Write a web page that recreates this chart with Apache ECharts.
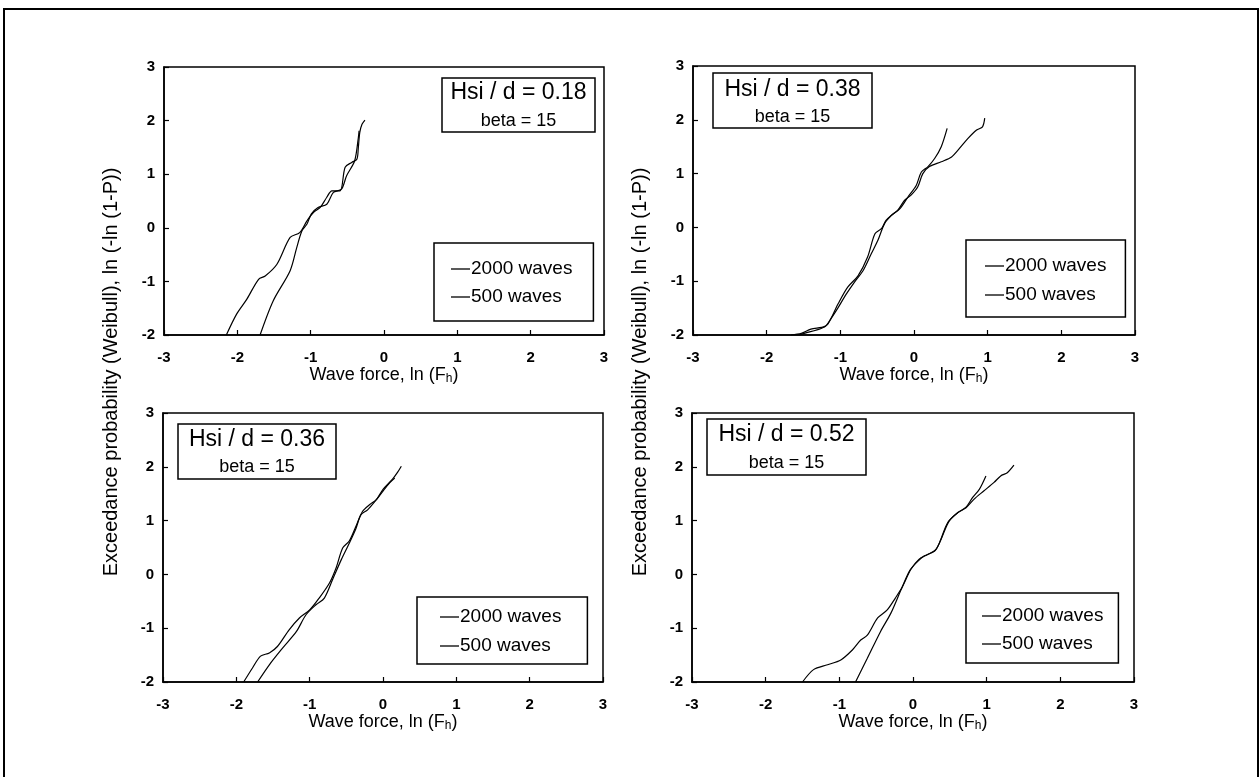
<!DOCTYPE html>
<html>
<head>
<meta charset="utf-8">
<script src="https://cdn.jsdelivr.net/npm/echarts@6/dist/echarts.min.js"></script>
<style>
  html, body { margin: 0; padding: 0; background: #fff; }
  #chart { width: 1260px; height: 777px; }
</style>
</head>
<body>
<div id="chart"></div>
<script>
// Weibull exceedance plots: ln(-ln(1-P)) against ln(Fh), four wave-height ratios
const seriesNames = ['2000 waves', '500 waves'];
const panelTitles = ['Hsi / d = 0.18', 'Hsi / d = 0.38', 'Hsi / d = 0.36', 'Hsi / d = 0.52'];
const panelSubtitle = 'beta = 15';
const xAxisTitle = 'Wave force, ln (F{sub|h})';
const yAxisTitle = 'Exceedance probability (Weibull), ln (-ln (1-P))';

// Hsi/d = 0.18
const p018_2000 = [[-2.15,-2.00],[-2.01,-1.61],[-1.87,-1.33],[-1.71,-0.96],[-1.62,-0.90],[-1.46,-0.68],
  [-1.28,-0.18],[-1.15,-0.09],[-1.05,0.13],[-0.96,0.29],[-0.87,0.38],[-0.78,0.57],[-0.71,0.69],
  [-0.60,0.69],[-0.53,1.13],[-0.44,1.22],[-0.37,1.28],[-0.35,1.50],[-0.33,1.78],[-0.30,1.93],[-0.26,2.01]];
const p018_500 = [[-1.69,-2.00],[-1.51,-1.36],[-1.28,-0.80],[-1.19,-0.37],[-1.12,-0.06],[-1.05,0.07],
  [-0.99,0.26],[-0.90,0.38],[-0.78,0.44],[-0.69,0.66],[-0.58,0.72],[-0.51,0.97],[-0.40,1.25],
  [-0.35,1.68],[-0.34,1.81]];

// Hsi/d = 0.38
const p038_2000 = [[-1.67,-2.00],[-1.53,-1.97],[-1.40,-1.89],[-1.21,-1.84],[-1.12,-1.68],[-1.03,-1.49],
  [-0.92,-1.24],[-0.81,-1.02],[-0.69,-0.80],[-0.58,-0.49],[-0.49,-0.24],[-0.40,0.07],[-0.31,0.22],
  [-0.22,0.32],[-0.13,0.50],[-0.04,0.60],[0.05,0.75],[0.12,1.00],[0.21,1.13],[0.37,1.22],
  [0.51,1.31],[0.60,1.44],[0.73,1.65],[0.85,1.81],[0.93,1.87],[0.96,2.03]];
const p038_500 = [[-1.55,-2.00],[-1.49,-1.97],[-1.26,-1.88],[-1.17,-1.80],[-1.03,-1.42],[-0.90,-1.11],
  [-0.76,-0.90],[-0.63,-0.55],[-0.53,-0.12],[-0.44,-0.02],[-0.38,0.13],[-0.31,0.22],[-0.19,0.35],
  [-0.08,0.57],[0.03,0.78],[0.10,1.03],[0.19,1.13],[0.28,1.28],[0.37,1.50],[0.45,1.84]];

// Hsi/d = 0.36
const p036_2000 = [[-1.90,-2.00],[-1.78,-1.74],[-1.67,-1.52],[-1.55,-1.46],[-1.44,-1.34],[-1.28,-1.03],
  [-1.14,-0.81],[-1.00,-0.66],[-0.87,-0.44],[-0.73,-0.16],[-0.64,0.12],[-0.55,0.49],[-0.46,0.62],
  [-0.37,0.89],[-0.28,1.17],[-0.18,1.30],[-0.09,1.39],[0.00,1.58],[0.13,1.77],[0.20,1.90],[0.25,2.01]];
const p036_500 = [[-1.71,-2.00],[-1.55,-1.68],[-1.37,-1.37],[-1.18,-1.06],[-1.05,-0.75],[-0.91,-0.56],
  [-0.80,-0.44],[-0.68,-0.07],[-0.57,0.27],[-0.46,0.58],[-0.37,0.85],[-0.30,1.11],[-0.21,1.20],
  [-0.09,1.39],[0.00,1.55],[0.09,1.70],[0.16,1.79]];

// Hsi/d = 0.52
const p052_2000 = [[-1.50,-2.00],[-1.35,-1.77],[-1.16,-1.68],[-0.98,-1.59],[-0.82,-1.40],[-0.71,-1.22],
  [-0.62,-1.13],[-0.48,-0.81],[-0.35,-0.66],[-0.24,-0.44],[-0.14,-0.22],[-0.03,0.09],[0.08,0.28],
  [0.20,0.37],[0.31,0.46],[0.38,0.65],[0.49,0.99],[0.61,1.15],[0.72,1.24],[0.83,1.40],[0.96,1.55],
  [1.10,1.71],[1.19,1.83],[1.28,1.89],[1.37,2.03]];
const p052_500 = [[-0.78,-2.00],[-0.62,-1.56],[-0.44,-1.06],[-0.30,-0.72],[-0.17,-0.31],[-0.05,0.06],
  [0.04,0.21],[0.15,0.34],[0.29,0.43],[0.36,0.59],[0.47,0.96],[0.61,1.15],[0.72,1.25],[0.81,1.43],
  [0.90,1.58],[0.99,1.83]];

const panelData = [[p018_2000, p018_500], [p038_2000, p038_500], [p036_2000, p036_500], [p052_2000, p052_500]];

// layout of the four plot areas
const grids = [
  { left: 164, top: 67, width: 440, height: 268 },
  { left: 693, top: 66, width: 442, height: 269 },
  { left: 163, top: 413, width: 440, height: 269 },
  { left: 692, top: 413, width: 442, height: 269 }
];
// title boxes: [x, y, w, h, line1 centre y, line2 centre y]
const titleBoxes = [
  [442, 78, 153, 54, 93, 121],
  [713, 73, 159, 55, 90, 117],
  [178, 424, 158, 55, 440, 467],
  [707, 419, 159, 56, 435, 463]
];
// legend boxes: left, top, padding [t, r, b, l], row gap
const legendBoxes = [
  { left: 434, top: 243, padding: [16, 21, 14, 17], gap: 8 },
  { left: 966, top: 240, padding: [16, 19, 12, 19], gap: 9 },
  { left: 417, top: 597, padding: [10, 26, 8, 23], gap: 9 },
  { left: 966, top: 593, padding: [13, 15, 9, 16], gap: 8 }
];

const FONT = '"Liberation Sans", Arial, Helvetica, sans-serif';

const option = {
  animation: false,
  backgroundColor: '#fff',
  grid: grids.map(g => Object.assign({ show: true, borderColor: '#000', borderWidth: 1.5, backgroundColor: 'transparent' }, g)),
  xAxis: grids.map((g, i) => ({
    type: 'value', gridIndex: i, min: -3, max: 3, interval: 1,
    name: xAxisTitle, nameLocation: 'middle', nameGap: i < 2 ? 29 : 28,
    nameTextStyle: {
      color: '#000', fontFamily: FONT, fontSize: 18,
      rich: { sub: { fontSize: 12, verticalAlign: 'bottom', padding: [8, 0, 0, 0], fontFamily: FONT, color: '#000' } }
    },
    axisLine: { show: true, onZero: false, lineStyle: { color: '#000', width: 1.5 } },
    axisTick: { show: true, inside: true, length: 5, lineStyle: { color: '#000', width: 1.2 } },
    axisLabel: { color: '#000', fontFamily: FONT, fontSize: 15, fontWeight: 'bold', margin: 15, showMinLabel: true, showMaxLabel: true },
    splitLine: { show: false }
  })),
  yAxis: grids.map((g, i) => ({
    type: 'value', gridIndex: i, min: -2, max: 3, interval: 1,
    axisLine: { show: true, onZero: false, lineStyle: { color: '#000', width: 1.5 } },
    axisTick: { show: true, inside: true, length: 5, lineStyle: { color: '#000', width: 1.2 } },
    axisLabel: { color: '#000', fontFamily: FONT, fontSize: 15, fontWeight: 'bold', margin: 9, showMinLabel: true, showMaxLabel: true },
    splitLine: { show: false }
  })),
  legend: legendBoxes.map(l => ({
    data: seriesNames.map(n => ({ name: n, icon: 'rect' })),
    orient: 'vertical',
    left: l.left, top: l.top,
    padding: l.padding,
    itemGap: l.gap,
    itemWidth: 19, itemHeight: 1.3,
    itemStyle: { color: '#000', borderWidth: 0 },
    lineStyle: { width: 0 },
    borderColor: '#000', borderWidth: 1.5, borderRadius: 0,
    backgroundColor: '#fff',
    selectedMode: false,
    textStyle: { color: '#000', fontFamily: FONT, fontSize: 19, lineHeight: 20, padding: [0, 0, 0, -4] }
  })),
  series: [],
  graphic: []
};

panelData.forEach((pair, i) => {
  pair.forEach((pts, k) => {
    option.series.push({
      type: 'line', name: seriesNames[k], xAxisIndex: i, yAxisIndex: i,
      data: pts, symbol: 'none', smooth: 0.3, clip: true,
      lineStyle: { color: '#000', width: 1.2 }, itemStyle: { color: '#000' }
    });
  });
});

// outer frame
option.graphic.push({
  type: 'rect', silent: true, z: 0,
  shape: { x: 4, y: 9, width: 1254, height: 800 },
  style: { fill: 'none', stroke: '#000', lineWidth: 2 }
});

// shared y-axis titles on each column
[111, 640].forEach(cx => {
  option.graphic.push({
    type: 'text', x: cx, y: 372, rotation: Math.PI / 2, silent: true, z: 10,
    style: { text: yAxisTitle, fill: '#000', font: '20px ' + FONT, align: 'center', verticalAlign: 'middle' }
  });
});

// boxed annotations
titleBoxes.forEach((b, i) => {
  const cx = b[0] + b[2] / 2;
  option.graphic.push({
    type: 'rect', silent: true, z: 10,
    shape: { x: b[0], y: b[1], width: b[2], height: b[3] },
    style: { fill: '#fff', stroke: '#000', lineWidth: 1.5 }
  });
  option.graphic.push({
    type: 'text', x: cx, y: b[4], silent: true, z: 11,
    style: { text: panelTitles[i], fill: '#000', font: '23px ' + FONT, align: 'center', verticalAlign: 'middle' }
  });
  option.graphic.push({
    type: 'text', x: cx, y: b[5], silent: true, z: 11,
    style: { text: panelSubtitle, fill: '#000', font: '18px ' + FONT, align: 'center', verticalAlign: 'middle' }
  });
});

const chart = echarts.init(document.getElementById('chart'), null, { renderer: 'canvas' });
chart.setOption(option);
</script>
</body>
</html>
